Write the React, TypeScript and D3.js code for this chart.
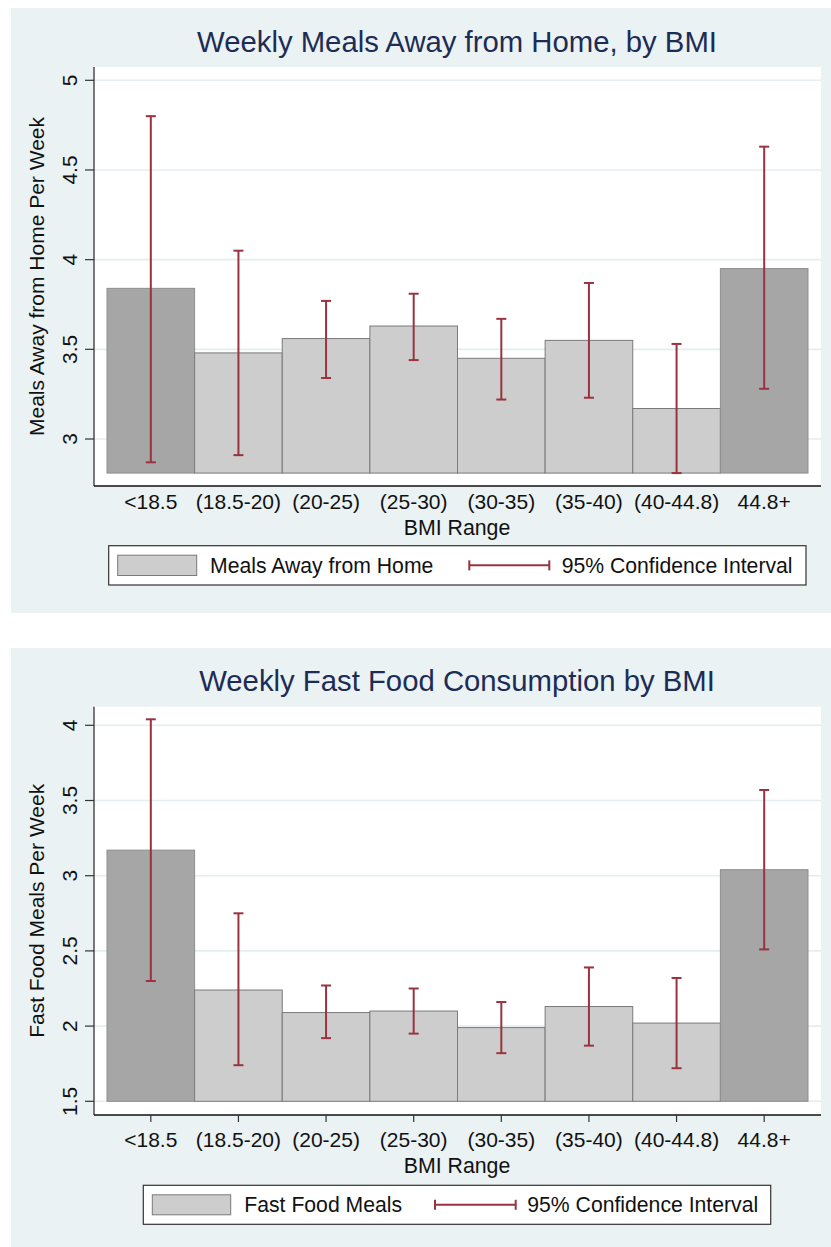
import React from "react";
import * as d3 from "d3";

// categories
const bmiRanges = ["<18.5", "(18.5-20)", "(20-25)", "(25-30)", "(30-35)", "(35-40)", "(40-44.8)", "44.8+"];
const darkRanges = ["<18.5", "44.8+"];

// weekly meals away from home
const mealsAway = [3.84, 3.48, 3.56, 3.63, 3.45, 3.55, 3.17, 3.95];
const mealsAwayLow = [2.87, 2.91, 3.34, 3.44, 3.22, 3.23, 2.81, 3.28];
const mealsAwayHigh = [4.8, 4.05, 3.77, 3.81, 3.67, 3.87, 3.53, 4.63];
const mealsTicks = [3, 3.5, 4, 4.5, 5];
const mealsBase = 2.81;

// weekly fast food meals
const fastFood = [3.17, 2.24, 2.09, 2.1, 1.99, 2.13, 2.02, 3.04];
const fastFoodLow = [2.3, 1.74, 1.92, 1.95, 1.82, 1.87, 1.72, 2.51];
const fastFoodHigh = [4.04, 2.75, 2.27, 2.25, 2.16, 2.39, 2.32, 3.57];
const fastTicks = [1.5, 2, 2.5, 3, 3.5, 4];
const fastBase = 1.5;

const FONT = "'Liberation Sans', Arial, Helvetica, sans-serif";
const CI_COLOR = "#98333f";
const TITLE_COLOR = "#1d2c55";
const PANEL_BG = "#eaf2f3";
const GRID = "#e4edf0";
const LIGHT_BAR = "#cdcdcd";
const DARK_BAR = "#a6a6a6";

const PLOT_L = 94;
const PLOT_R = 821;

type Legend = {
  x0: number; x1: number; y0: number; y1: number;
  sw0: number; sw1: number; labX: number;
  ci0: number; ci1: number; ciLabX: number;
};

type PanelProps = {
  top: number;
  bottom: number;
  title: string;
  titleY: number;
  yLabel: string;
  legendLabel: string;
  values: number[];
  low: number[];
  high: number[];
  base: number;
  ticks: number[];
  tickLo: number;
  tickHi: number;
  plotTop: number;
  axisY: number;
  xTicks: boolean;
  labelGap: number;
  xTitleGap: number;
  legend: Legend;
};

function Panel(p: PanelProps) {
  const x = d3.scaleBand<string>().domain(bmiRanges).range([107, 808]).padding(0);
  const y = d3
    .scaleLinear()
    .domain([p.ticks[0], p.ticks[p.ticks.length - 1]])
    .range([p.tickLo, p.tickHi]);
  const bw = x.bandwidth();
  const lg = p.legend;
  const lgMid = (lg.y0 + lg.y1) / 2;

  return (
    <g fontFamily={FONT}>
      <rect x={11} y={p.top} width={831 - 11} height={p.bottom - p.top} fill={PANEL_BG} />
      <rect x={PLOT_L} y={p.plotTop} width={PLOT_R - PLOT_L} height={p.axisY - p.plotTop} fill="#fff" />
      <text x={457} y={p.titleY} textAnchor="middle" fontSize={29.3} fill={TITLE_COLOR}>
        {p.title}
      </text>

      {p.ticks.map((t) => (
        <line key={"g" + t} x1={PLOT_L} x2={PLOT_R} y1={y(t)} y2={y(t)} stroke={GRID} strokeWidth={1.6} />
      ))}

      {bmiRanges.map((c, i) => (
        <rect
          key={"b" + c}
          x={x(c)}
          y={y(p.values[i])}
          width={bw}
          height={y(p.base) - y(p.values[i])}
          fill={darkRanges.includes(c) ? DARK_BAR : LIGHT_BAR}
          stroke={darkRanges.includes(c) ? "#8e8e8e" : "#7a7a7a"}
          strokeWidth={1}
        />
      ))}

      {bmiRanges.map((c, i) => {
        const cx = (x(c) as number) + bw / 2;
        return (
          <g key={"ci" + c} stroke={CI_COLOR} strokeWidth={2}>
            <line x1={cx} x2={cx} y1={y(p.high[i])} y2={y(p.low[i])} />
            <line x1={cx - 5} x2={cx + 5} y1={y(p.high[i])} y2={y(p.high[i])} />
            <line x1={cx - 5} x2={cx + 5} y1={y(p.low[i])} y2={y(p.low[i])} />
          </g>
        );
      })}

      {/* axes */}
      <line x1={PLOT_L} x2={PLOT_L} y1={p.plotTop} y2={p.axisY} stroke="#333" strokeWidth={1.3} />
      <line x1={PLOT_L} x2={PLOT_R} y1={p.axisY} y2={p.axisY} stroke="#111" strokeWidth={1.3} />
      {p.ticks.map((t) => (
        <g key={"yt" + t}>
          <line x1={85} x2={PLOT_L} y1={y(t)} y2={y(t)} stroke="#333" strokeWidth={1.2} />
          <text transform={`translate(77,${y(t)}) rotate(-90)`} textAnchor="middle" fontSize={21} fill="#111">
            {t}
          </text>
        </g>
      ))}
      <text
        transform={`translate(44,${(p.plotTop + p.axisY) / 2}) rotate(-90)`}
        textAnchor="middle"
        fontSize={21}
        fill="#111"
      >
        {p.yLabel}
      </text>

      {bmiRanges.map((c) => {
        const cx = (x(c) as number) + bw / 2;
        return (
          <g key={"xt" + c}>
            {p.xTicks && <line x1={cx} x2={cx} y1={p.axisY} y2={p.axisY + 7} stroke="#333" strokeWidth={1.2} />}
            <text x={cx} y={p.axisY + p.labelGap} textAnchor="middle" fontSize={21} fill="#111">
              {c}
            </text>
          </g>
        );
      })}
      <text x={457} y={p.axisY + p.xTitleGap} textAnchor="middle" fontSize={21.3} fill="#111">
        BMI Range
      </text>

      {/* legend */}
      <rect x={lg.x0} y={lg.y0} width={lg.x1 - lg.x0} height={lg.y1 - lg.y0} fill="#fff" stroke="#333" strokeWidth={1.2} />
      <rect
        x={lg.sw0}
        y={lg.y0 + 9.5}
        width={lg.sw1 - lg.sw0}
        height={lg.y1 - lg.y0 - 19}
        fill={LIGHT_BAR}
        stroke="#7a7a7a"
        strokeWidth={1}
      />
      <text x={lg.labX} y={lgMid + 7.5} fontSize={21.2} fill="#111">
        {p.legendLabel}
      </text>
      <g stroke={CI_COLOR} strokeWidth={2}>
        <line x1={lg.ci0} x2={lg.ci1} y1={lgMid} y2={lgMid} />
        <line x1={lg.ci0} x2={lg.ci0} y1={lgMid - 5} y2={lgMid + 5} />
        <line x1={lg.ci1} x2={lg.ci1} y1={lgMid - 5} y2={lgMid + 5} />
      </g>
      <text x={lg.ciLabX} y={lgMid + 7.5} fontSize={21.2} fill="#111">
        95% Confidence Interval
      </text>
    </g>
  );
}

export default function App() {
  return (
    <svg width={831} height={1247} style={{ position: "absolute", left: 0, top: 0, display: "block" }}>
      <rect x={0} y={0} width={831} height={1247} fill="#fff" />
      <Panel
        top={8}
        bottom={613}
        title="Weekly Meals Away from Home, by BMI"
        titleY={52}
        yLabel="Meals Away from Home Per Week"
        legendLabel="Meals Away from Home"
        values={mealsAway}
        low={mealsAwayLow}
        high={mealsAwayHigh}
        base={mealsBase}
        ticks={mealsTicks}
        tickLo={439}
        tickHi={80.3}
        plotTop={67}
        axisY={486}
        xTicks={false}
        labelGap={22.5}
        xTitleGap={49}
        legend={{ x0: 108.7, x1: 806, y0: 545.7, y1: 585, sw0: 117.7, sw1: 196.7, labX: 210, ci0: 469.3, ci1: 549.3, ciLabX: 561.7 }}
      />
      <Panel
        top={648}
        bottom={1247}
        title="Weekly Fast Food Consumption by BMI"
        titleY={691}
        yLabel="Fast Food Meals Per Week"
        legendLabel="Fast Food Meals"
        values={fastFood}
        low={fastFoodLow}
        high={fastFoodHigh}
        base={fastBase}
        ticks={fastTicks}
        tickLo={1101.3}
        tickHi={725.3}
        plotTop={706.7}
        axisY={1115}
        xTicks={true}
        labelGap={31.5}
        xTitleGap={58}
        legend={{ x0: 143.3, x1: 770.7, y0: 1185.3, y1: 1224.3, sw0: 152.3, sw1: 230.7, labX: 244.3, ci0: 435, ci1: 515.7, ciLabX: 527.3 }}
      />
    </svg>
  );
}
